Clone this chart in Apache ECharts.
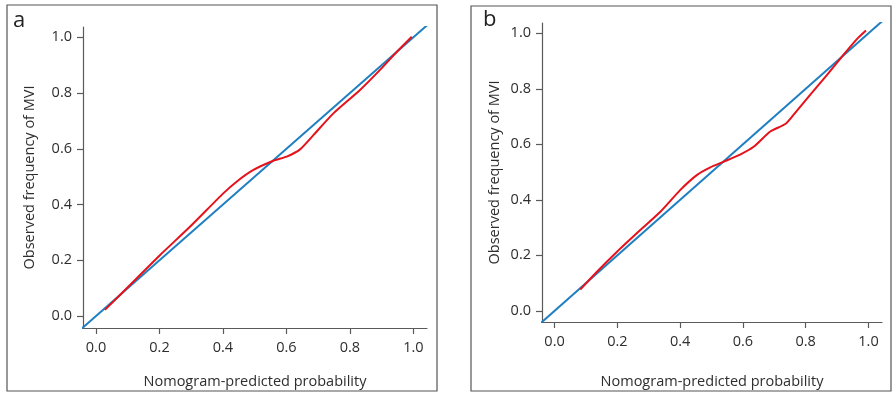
<!DOCTYPE html>
<html>
<head>
<meta charset="utf-8">
<script src="https://cdn.jsdelivr.net/npm/echarts@6/dist/echarts.min.js"></script>
<style>
  html, body { margin: 0; padding: 0; background: #fff; }
  #chart { width: 893px; height: 394px; }
</style>
</head>
<body>
<div id="chart"></div>
<script>
// axis ticks shared by both panels
const tickValues = [0, 0.2, 0.4, 0.6, 0.8, 1.0]

// panel a: calibration curve (red)
const predA = [0.028, 0.107, 0.202, 0.296, 0.401, 0.443, 0.496, 0.559, 0.601, 0.643, 0.685, 0.748, 0.832, 0.895, 0.948, 0.995]
const obsA = [0.022, 0.111, 0.219, 0.320, 0.440, 0.482, 0.524, 0.557, 0.572, 0.598, 0.649, 0.727, 0.811, 0.883, 0.948, 1.002]

// panel b: calibration curve (red)
const predB = [0.082, 0.135, 0.199, 0.273, 0.337, 0.400, 0.453, 0.496, 0.538, 0.591, 0.634, 0.687, 0.735, 0.761, 0.814, 0.868, 0.920, 0.963, 0.992]
const obsB = [0.077, 0.141, 0.213, 0.291, 0.357, 0.435, 0.489, 0.517, 0.537, 0.563, 0.591, 0.646, 0.673, 0.706, 0.778, 0.850, 0.922, 0.979, 1.010]

// ideal reference line (blue)
const ideal = [-0.045, 1.045]

const pairs = (xs, ys) => xs.map((x, i) => [x, ys[i]])

const chart = echarts.init(document.getElementById('chart'))

const font = 'Open Sans, Noto Sans, sans-serif'
const axisColor = '#5a5a5a'
const textColor = '#2e2e2e'

const makeX = (gridIndex, min, max, nameGap) => ({
  type: 'value',
  gridIndex,
  min,
  max,
  name: 'Nomogram-predicted probability',
  nameLocation: 'middle',
  nameGap,
  nameTextStyle: { color: textColor, fontSize: 14.5, fontFamily: font },
  splitLine: { show: false },
  axisLine: { show: true, onZero: false, lineStyle: { color: axisColor, width: 1.2 } },
  axisTick: { show: true, length: 6, customValues: tickValues, lineStyle: { color: axisColor, width: 1.2 } },
  axisLabel: {
    customValues: tickValues,
    margin: 12,
    color: textColor,
    fontSize: 14.5,
    fontFamily: font,
    formatter: (v) => v.toFixed(1),
  },
})

const makeY = (gridIndex, min, max, nameGap) => ({
  type: 'value',
  gridIndex,
  min,
  max,
  name: 'Observed frequency of MVI',
  nameLocation: 'middle',
  nameGap,
  nameRotate: 90,
  nameTextStyle: { color: textColor, fontSize: 14.5, fontFamily: font },
  splitLine: { show: false },
  axisLine: { show: true, onZero: false, lineStyle: { color: axisColor, width: 1.2 } },
  axisTick: { show: true, length: 6, customValues: tickValues, lineStyle: { color: axisColor, width: 1.2 } },
  axisLabel: {
    customValues: tickValues,
    margin: 11,
    color: textColor,
    fontSize: 14.5,
    fontFamily: font,
    formatter: (v) => v.toFixed(1),
  },
})

chart.setOption({
  animation: false,
  backgroundColor: '#fff',
  grid: [
    { left: 83, top: 27, width: 344, height: 301 },
    { left: 542, top: 23, width: 340, height: 299 },
  ],
  xAxis: [makeX(0, -0.041, 1.043, 46), makeX(1, -0.040, 1.043, 52)],
  yAxis: [makeY(0, -0.043, 1.037, 46), makeY(1, -0.040, 1.037, 40)],
  graphic: [
    { type: 'rect', shape: { x: 7, y: 5, width: 430, height: 386 }, style: { fill: null, stroke: '#555', lineWidth: 1.2 } },
    { type: 'rect', shape: { x: 471, y: 6, width: 420, height: 385 }, style: { fill: null, stroke: '#555', lineWidth: 1.2 } },
    { type: 'text', left: 13, top: 10, style: { text: 'a', fill: '#222', fontSize: 22, fontFamily: font } },
    { type: 'text', left: 483, top: 9, style: { text: 'b', fill: '#222', fontSize: 22, fontFamily: font } },
  ],
  series: [
    {
      type: 'line', xAxisIndex: 0, yAxisIndex: 0, showSymbol: false, z: 2,
      lineStyle: { color: '#1f7fc0', width: 2 },
      data: pairs(ideal, ideal),
    },
    {
      type: 'line', xAxisIndex: 0, yAxisIndex: 0, showSymbol: false, smooth: 0.2, z: 3,
      lineStyle: { color: '#e5121b', width: 2 },
      data: pairs(predA, obsA),
    },
    {
      type: 'line', xAxisIndex: 1, yAxisIndex: 1, showSymbol: false, z: 2,
      lineStyle: { color: '#1f7fc0', width: 2 },
      data: pairs(ideal, ideal),
    },
    {
      type: 'line', xAxisIndex: 1, yAxisIndex: 1, showSymbol: false, smooth: 0.2, z: 3,
      lineStyle: { color: '#e5121b', width: 2 },
      data: pairs(predB, obsB),
    },
  ],
})
</script>
</body>
</html>
